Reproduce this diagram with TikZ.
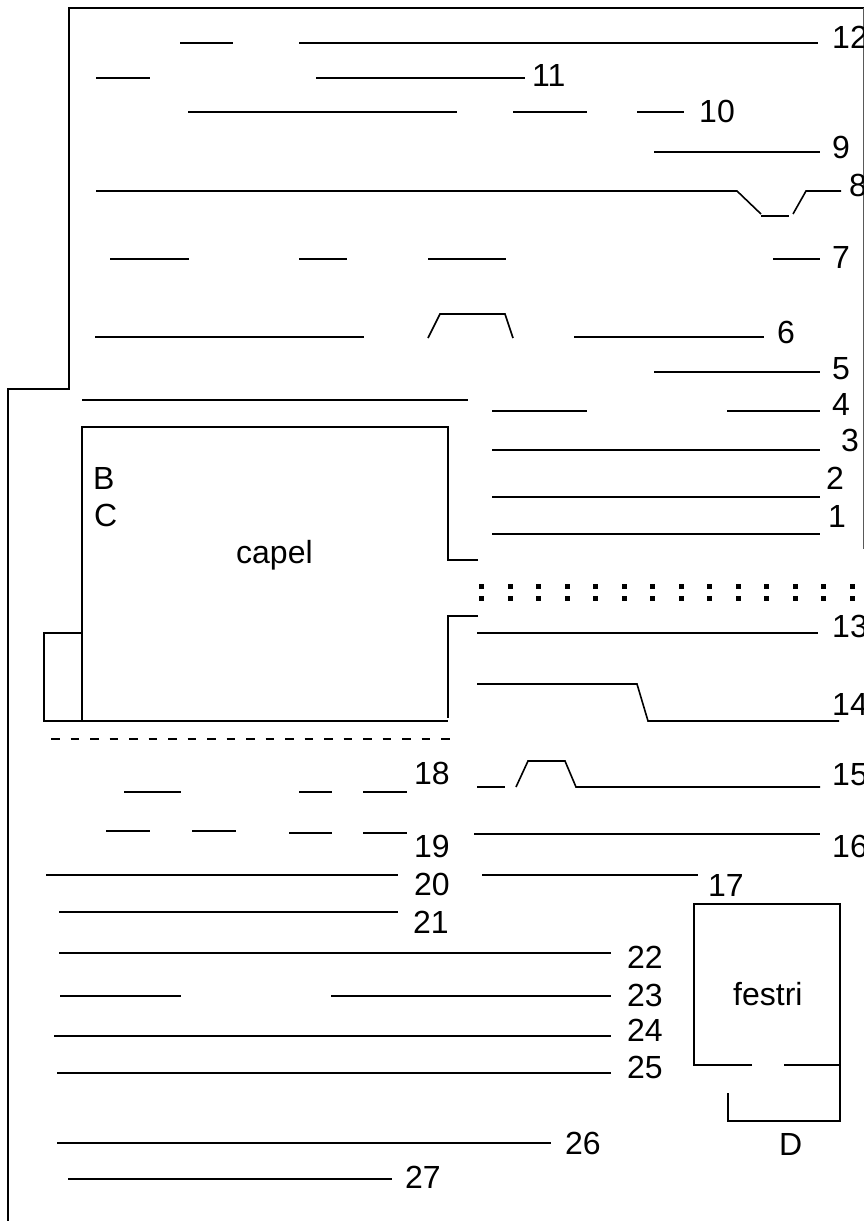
\documentclass[tikz,border=0pt]{standalone}
\usepackage{fontspec}
\setmainfont{Liberation Sans}
\tikzset{
  wall/.style={line width=1.6pt,black,line cap=butt,line join=miter},
  edge/.style={line width=1.3pt,black!65},
  lab/.style={font=\fontsize{32}{34}\selectfont,inner sep=0pt},
  num/.style={lab,anchor=base west,yshift=-10.5pt},
}
\begin{document}
\begin{tikzpicture}[x=1pt,y=-1pt]
\useasboundingbox (0,0) rectangle (864,1221);
% outer boundary
\draw[wall] (864,8) -- (69,8) -- (69,389) -- (8,389) -- (8,1221);
\draw[edge] (863.5,8) -- (863.5,549);
% top block
\foreach \a/\b/\y in {180/233/43,299/818/43,96/150/78,316/525/78,188/457/112,513/587/112,637/684/112,654/820/152,
  110/189/259,299/347/259,428/506/259,773/820/259,95/364/337,574/764/337,654/820/372,82/468/400,
  492/587/411,727/820/411,492/820/450,492/820/497,492/820/534,
  477/818/633,474/820/834,482/698/875,
  124/181/792,299/332/792,363/407/792,106/150/831,192/236/831,289/332/833,363/407/833,
  46/398/875,59/398/912,59/611/953,60/181/996,331/611/996,54/611/1036,57/611/1073,57/551/1143,68/392/1179}
  \draw[wall] (\a,\y) -- (\b,\y);
\draw[wall] (96,191) -- (737,191) -- (761,214);
\draw[wall] (761,216) -- (789,216);
\draw[wall] (793,214) -- (806,191) -- (841,191);
\draw[wall] (428,338) -- (440,314) -- (505,314) -- (513,338);
% capel
\draw[wall] (478,560) -- (448,560) -- (448,427) -- (82,427) -- (82,721);
\draw[wall] (478,616) -- (448,616) -- (448,718);
\draw[wall] (82,633) -- (44,633) -- (44,721) -- (448,721);
\draw[line width=1.8pt,dash pattern=on 8.5pt off 11pt] (51,739) -- (450,739);
\foreach \i in {0,...,13} {
  \fill ({481.7+28.5*\i-2.7},583.5) rectangle +(5.4,5.4);
  \fill ({481.7+28.5*\i-2.7},595.5) rectangle +(5.4,5.4);
}
% right side stepped lines
\draw[wall] (477,684) -- (637,684) -- (648,721) -- (839,721);
\draw[wall] (477,787) -- (505,787);
\draw[wall] (516,787) -- (528,761) -- (565,761) -- (576,787) -- (820,787);
% festri
\draw[wall] (752,1065) -- (694,1065) -- (694,904) -- (840,904) -- (840,1121) -- (728,1121) -- (728,1093);
\draw[wall] (784,1065) -- (840,1065);
% labels
\node[num] (n12) at (832,38) {12};
\node[num] (n11) at (532,76) {11};
\node[num] (n10) at (699,112) {10};
\node[num] (n9) at (832,148) {9};
\node[num] (n8) at (849,186) {8};
\node[num] (n7) at (832,258) {7};
\node[num] (n6) at (777,333) {6};
\node[num] (n5) at (832,369) {5};
\node[num] (n4) at (832,405) {4};
\node[num] (n3) at (841,441) {3};
\node[num] (n2) at (826,479) {2};
\node[num] (n1) at (828,517) {1};
\node[num] (n13) at (832,627) {13};
\node[num] (n14) at (832,705) {14};
\node[num] (n15) at (832,775) {15};
\node[num] (n16) at (832,847) {16};
\node[num] (n17) at (708,886) {17};
\node[num] (n18) at (414,774) {18};
\node[num] (n19) at (414,847) {19};
\node[num] (n20) at (414,885) {20};
\node[num] (n21) at (413,923) {21};
\node[num] (n22) at (627,958) {22};
\node[num] (n23) at (627,996) {23};
\node[num] (n24) at (627,1031) {24};
\node[num] (n25) at (627,1068) {25};
\node[num] (n26) at (565,1144) {26};
\node[num] (n27) at (405,1178) {27};
\node[num] (nB) at (93,479) {B};
\node[num] (nC) at (94,516) {C};
\node[num] (ncapel) at (236,553) {capel};
\node[num] (nfestri) at (733,995) {festri};
\node[num] (nD) at (779,1145) {D};
\end{tikzpicture}
\end{document}
